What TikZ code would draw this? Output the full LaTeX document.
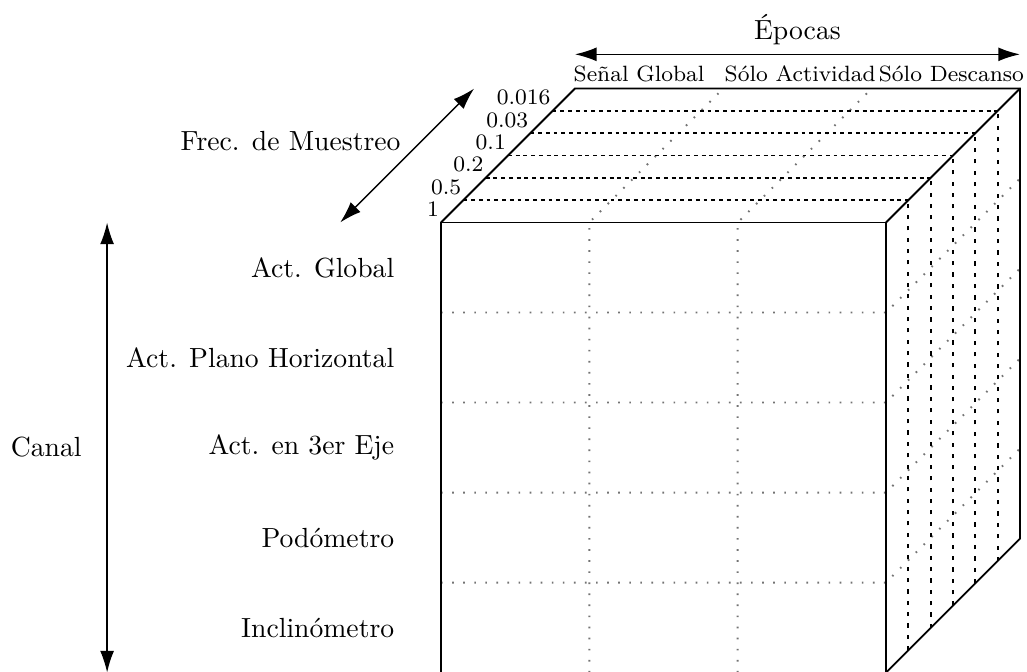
\documentclass[tikz,border=0pt]{standalone}
\usepackage{fontspec}
\usepackage{tikz}
\usetikzlibrary{arrows.meta,positioning,calc}
\def\cw{5.65}
\def\ch{5.715}
\def\cd{1.70}

\begin{document}
\begin{tikzpicture}
  [
    Edge/.style={draw=black, line width=0.65pt},
    Grid/.style={draw=black!55, line width=0.7pt, dash pattern=on 0.6pt off 3.4pt},
    Depth/.style={draw=black, line width=0.6pt, dash pattern=on 1.4pt off 1.4pt},
    Side/.style={draw=black, line width=0.7pt, dash pattern=on 1.5pt off 2.6pt},
    Axis/.style={{Latex[length=7.8pt,width=5pt]}-{Latex[length=7.8pt,width=5pt]}, line width=0.5pt},
    Tag/.style={font=\footnotesize, inner xsep=0.6pt, inner ysep=1.8pt, anchor=south east},
    Head/.style={font=\footnotesize, inner sep=2.2pt, anchor=south},
    Row/.style={anchor=east}
  ]
  \useasboundingbox (-5.60,0.02) rectangle (7.44,8.54);
  % Grid
  \foreach \j in {1,2} {
    \draw[Grid] ({\j*\cw/3},0) -- ({\j*\cw/3},\ch) -- ++(\cd,\cd);
  }
  \foreach \i in {1,...,4} {
    \draw[Grid] (0,{\i*\ch/5}) -- (\cw,{\i*\ch/5}) -- ++(\cd,\cd);
  }
  \foreach \k in {1,...,5} {
    \draw[Depth] ({\k*\cd/6},{\ch+\k*\cd/6}) -- ++(\cw,0);
    \draw[Side] ({\cw+\k*\cd/6},{\k*\cd/6}) -- ++(0,\ch);
  }
  % Cube
  \draw[Edge] (0,0) rectangle (\cw,\ch);
  \draw[Edge] (0,\ch) -- ++(\cd,\cd) -- ++(\cw,0) -- ++(0,-\ch) -- (\cw,0);
  \draw[Edge] (\cw,\ch) -- ++(\cd,\cd);
  % Labels
  \foreach \f [count=\k from 0] in {1,0.5,0.2,0.1,0.03,0.016} {
    \node[Tag] (f\k) at ({\k*\cd/6},{\ch+\k*\cd/6}) {\f};
  }
  \node[Head] (c1) at (2.515,{\ch+\cd}) {Señal Global};
  \node[Head] (c2) at (4.56,{\ch+\cd}) {Sólo Actividad};
  \node[Head] (c3) at (6.48,{\ch+\cd}) {Sólo Descanso};
  \foreach \r [count=\i] in {Act. Global, Act. Plano Horizontal, Act. en 3er Eje, Podómetro, Inclinómetro} {
    \node[Row] (r\i) at (-0.47,{\ch-(\i-0.5)*\ch/5}) {\r};
  }
  % Axes
  \coordinate (e0) at (\cd,7.85);
  \coordinate (e1) at ({\cw+\cd},7.85);
  \coordinate (em) at ($(e0)!0.5!(e1)$);
  \draw[Axis] (e0) -- (e1);
  \node[above=0pt of em] (epocas) {Épocas};
  \coordinate (k0) at (-4.24,0);
  \coordinate (k1) at (-4.24,\ch);
  \coordinate (km) at ($(k0)!0.5!(k1)$);
  \draw[Axis] (k0) -- (k1);
  \node[left=0.2cm of km] (canal) {Canal};
  \coordinate (m0) at (-1.28,\ch);
  \coordinate (m1) at ({-1.28+\cd},{\ch+\cd});
  \coordinate (mm) at ($(m0)!0.5!(m1)$);
  \draw[Axis] (m0) -- (m1);
  \node[anchor=east] (frec) at ($(mm)+(0.04,0.18)$) {Frec. de Muestreo};
\end{tikzpicture}
\end{document}
